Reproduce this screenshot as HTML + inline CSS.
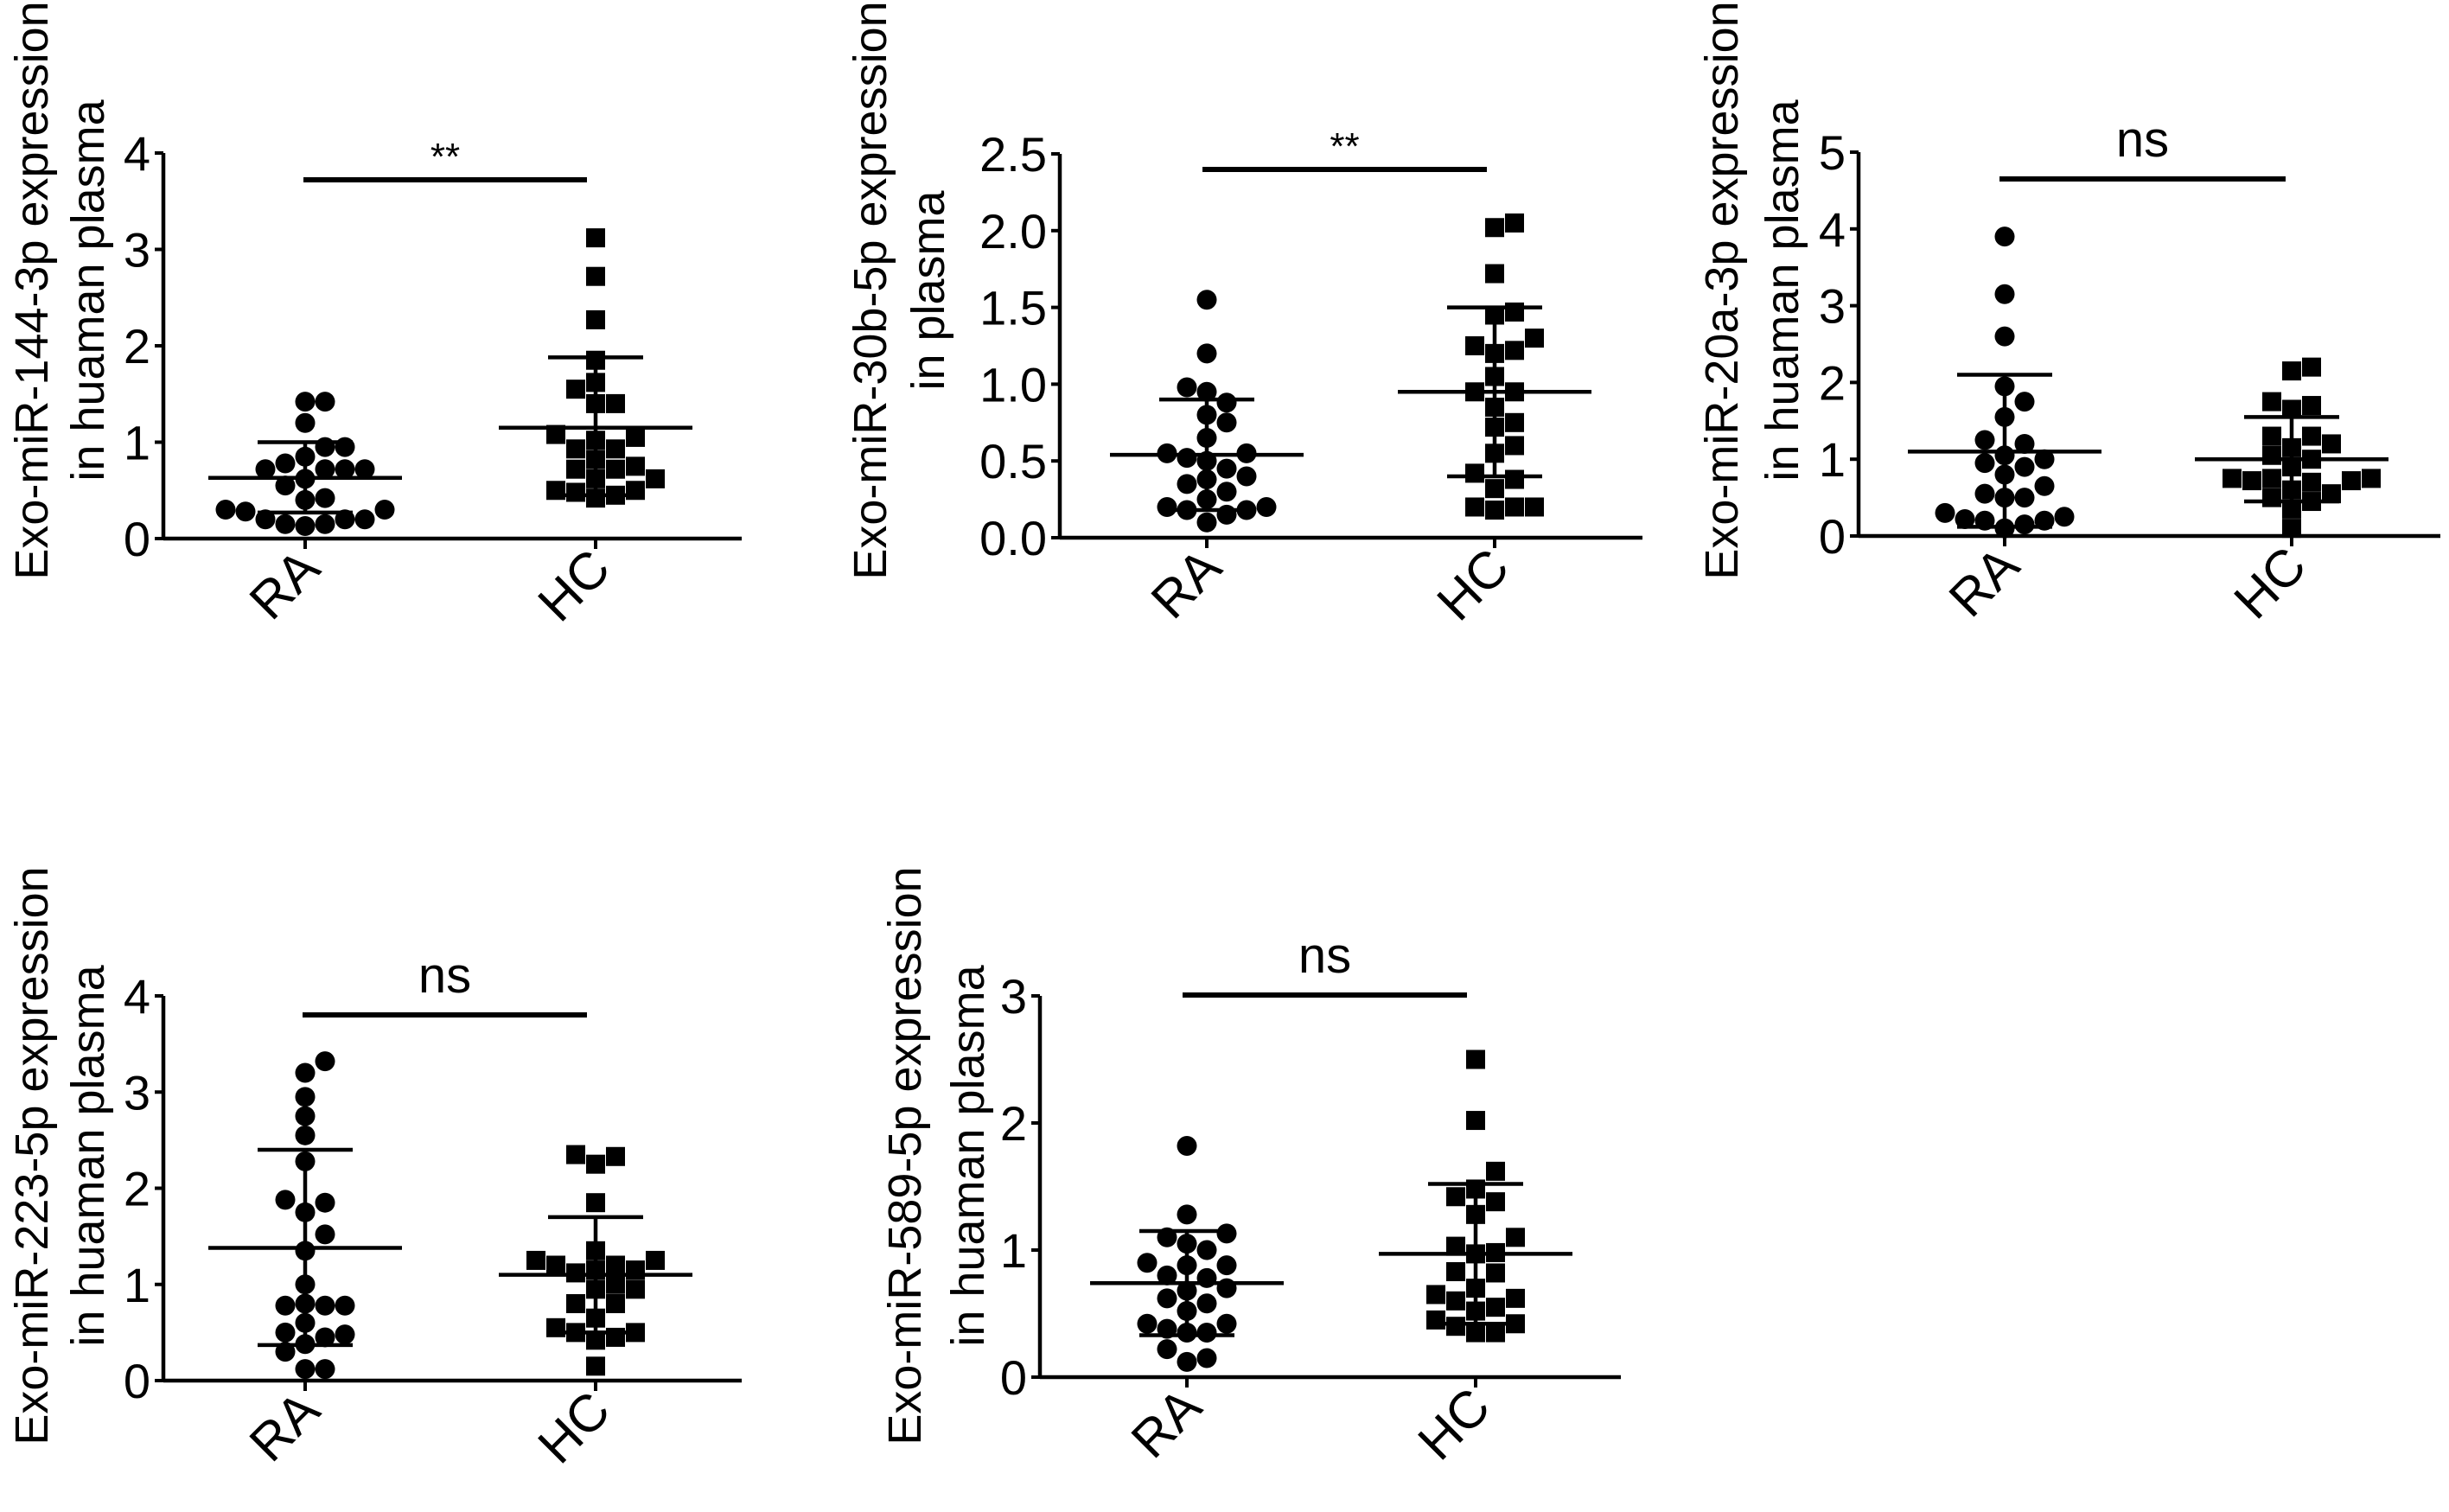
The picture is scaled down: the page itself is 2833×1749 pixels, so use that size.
<!DOCTYPE html>
<html><head><meta charset="utf-8"><style>
html,body{margin:0;padding:0;background:#fff}
svg{display:block}
text{font-family:"Liberation Sans",Arial,sans-serif;fill:#000}
</style></head><body>
<svg id="fig" width="2833" height="1749" viewBox="0 0 2833 1749" xmlns="http://www.w3.org/2000/svg"></svg>
<script>
const categories = ["RA","HC"];
const p1Title = ["Exo-miR-144-3p expression","in huaman plasma"];
const p1Ticks = ["0","1","2","3","4"];
const p1RA = [1.42,1.42,1.2,0.95,0.95,0.72,0.72,0.78,0.72,0.72,0.85,0.55,0.62,0.4,0.42,0.3,0.28,0.2,0.2,0.15,0.13,0.15,0.2,0.3];
const p1HC = [3.12,2.72,2.27,1.85,1.62,1.55,1.4,1.4,1.08,1.02,1.05,0.93,0.93,0.72,0.72,0.75,0.82,0.62,0.62,0.5,0.48,0.45,0.42,0.5];
const p1Stats = [[0.63,1.0,0.27],[1.15,1.88,0.45]];
const p1Sig = "**";

const p2Title = ["Exo-miR-30b-5p expression","in plasma"];
const p2Ticks = ["0.0","0.5","1.0","1.5","2.0","2.5"];
const p2RA = [1.55,1.2,0.98,0.95,0.88,0.8,0.75,0.65,0.55,0.5,0.55,0.52,0.4,0.35,0.38,0.3,0.2,0.18,0.2,0.18,0.15,0.1,0.25,0.45];
const p2HC = [2.05,2.02,1.72,1.47,1.45,1.25,1.2,1.3,1.22,1.05,0.95,0.95,0.85,0.75,0.72,0.6,0.55,0.42,0.38,0.32,0.2,0.2,0.18,0.2];
const p2Stats = [[0.54,0.9,0.18],[0.95,1.5,0.4]];
const p2Sig = "**";

const p3Title = ["Exo-miR-20a-3p expression","in huaman plasma"];
const p3Ticks = ["0","1","2","3","4","5"];
const p3RA = [3.9,3.15,2.6,1.95,1.75,1.55,1.2,1.25,1.05,1.0,0.9,0.95,0.8,0.65,0.5,0.55,0.5,0.3,0.25,0.2,0.15,0.2,0.1,0.22];
const p3HC = [2.2,2.15,1.75,1.7,1.65,1.3,1.3,1.2,1.15,1.05,1.0,0.9,0.75,0.75,0.75,0.72,0.72,0.7,0.6,0.55,0.5,0.45,0.35,0.1];
const p3Stats = [[1.1,2.1,0.12],[1.0,1.55,0.45]];
const p3Sig = "ns";

const p4Title = ["Exo-miR-223-5p expression","in huaman plasma"];
const p4Ticks = ["0","1","2","3","4"];
const p4RA = [3.32,3.2,2.95,2.75,2.55,2.28,1.88,1.85,1.75,1.52,1.35,1.0,0.8,0.78,0.78,0.78,0.6,0.5,0.48,0.45,0.3,0.12,0.12,0.38];
const p4HC = [2.35,2.33,2.25,1.85,1.35,1.25,1.2,1.15,1.15,1.12,1.2,1.25,1.0,0.95,0.95,0.8,0.8,0.65,0.55,0.5,0.5,0.45,0.42,0.15];
const p4Stats = [[1.38,2.4,0.37],[1.1,1.7,0.5]];
const p4Sig = "ns";

const p5Title = ["Exo-miR-589-5p expression","in huaman plasma"];
const p5Ticks = ["0","1","2","3"];
const p5RA = [1.82,1.28,1.13,1.1,1.05,1.0,0.9,0.88,0.88,0.8,0.78,0.7,0.62,0.58,0.52,0.42,0.42,0.38,0.35,0.35,0.22,0.15,0.12,0.68];
const p5HC = [2.5,2.02,1.62,1.48,1.42,1.38,1.28,1.1,1.03,0.98,0.97,0.83,0.82,0.7,0.65,0.62,0.6,0.55,0.45,0.42,0.4,0.35,0.35,0.52];
const p5Stats = [[0.74,1.15,0.33],[0.97,1.52,0.42]];
const p5Sig = "ns";

const NS = "http://www.w3.org/2000/svg";
const svg = document.getElementById('fig');
function mk(tag, attrs, parent){
  const e = document.createElementNS(NS, tag);
  for (const k in attrs) e.setAttribute(k, attrs[k]);
  (parent||svg).appendChild(e);
  return e;
}

const panels = [
 {title:p1Title,ticks:p1Ticks,ra:p1RA,hc:p1HC,stats:p1Stats,sig:p1Sig,ax:189,y0:623,top:177,right:858,cx:[353,689],sigY:208,sigX:[351,679],labX:[55,120],labY:336},
 {title:p2Title,ticks:p2Ticks,ra:p2RA,hc:p2HC,stats:p2Stats,sig:p2Sig,ax:1226,y0:622,top:178,right:1900,cx:[1396,1729],sigY:196,sigX:[1391,1720],labX:[1025,1092],labY:336},
 {title:p3Title,ticks:p3Ticks,ra:p3RA,hc:p3HC,stats:p3Stats,sig:p3Sig,ax:2150,y0:620,top:176,right:2823,cx:[2319,2651],sigY:207,sigX:[2313,2644],labX:[2010,2080],labY:336},
 {title:p4Title,ticks:p4Ticks,ra:p4RA,hc:p4HC,stats:p4Stats,sig:p4Sig,ax:189,y0:1597,top:1152,right:858,cx:[353,689],sigY:1174,sigX:[350,679],labX:[55,120],labY:1337},
 {title:p5Title,ticks:p5Ticks,ra:p5RA,hc:p5HC,stats:p5Stats,sig:p5Sig,ax:1203,y0:1593,top:1152,right:1875,cx:[1373,1707],sigY:1151,sigX:[1368,1697],labX:[1065,1138],labY:1337}
];

function swarm(vals, yf){
  const placed = [];
  const out = new Array(vals.length);
  const idx = vals.map((v,i)=>i).sort((a,b)=>vals[a]-vals[b]);
  const d = 21, step = 23;
  const cand = [0];
  for (let s=1;s<=6;s++){cand.push(s*step); cand.push(-s*step);}
  idx.forEach(i=>{
    const y = yf(vals[i]);
    let best = 0, bestScore = Infinity;
    for (const c of cand){
      const minD = placed.reduce((m,p)=>Math.min(m,Math.hypot(p[0]-c,p[1]-y)),Infinity);
      if (minD>=d){best=c;bestScore=-1;break;}
      const score = (d-minD)*10+Math.abs(c);
      if (score<bestScore){bestScore=score;best=c;}
    }
    placed.push([best,y]);
    out[i]=best;
  });
  return out;
}

panels.forEach((P,pi)=>{
  const g = mk('g',{});
  
  
  const maxV = parseFloat(P.ticks[P.ticks.length-1]);
  const yf = v => P.y0 - (v/maxV)*(P.y0-P.top);
  const ya = mk('line',{x1:P.ax,y1:P.top,x2:P.ax,y2:P.y0,stroke:'#000','stroke-width':4.5},g);
  
  
  const xa = mk('line',{x1:P.ax,y1:P.y0,x2:P.right,y2:P.y0,stroke:'#000','stroke-width':4.5},g);
  
  
  P.ticks.forEach(t=>{
    const y = yf(parseFloat(t));
    mk('line',{x1:P.ax-10,y1:y,x2:P.ax,y2:y,stroke:'#000','stroke-width':4},g);
    const tx = mk('text',{x:P.ax-15,y:y+20,'text-anchor':'end','font-size':56},g);
    
    
    tx.textContent = t;
  });
  P.title.forEach((line,li)=>{
    const t = mk('text',{x:0,y:0,'text-anchor':'middle','font-size':54,transform:`translate(${P.labX[li]},${P.labY}) rotate(-90)`},g);
    
    
    t.textContent = line;
  });
  categories.forEach((c,ci)=>{
    const x = P.cx[ci];
    mk('line',{x1:x,y1:P.y0,x2:x,y2:P.y0+12,stroke:'#000','stroke-width':4},g);
    const t = mk('text',{x:0,y:0,'text-anchor':'end','font-size':60,transform:`translate(${x+20},${P.y0+38}) rotate(-45)`},g);
    
    
    t.textContent = c;
  });
  [P.ra,P.hc].forEach((vals,ci)=>{
    const offs = swarm(vals,yf);
    vals.forEach((v,i)=>{
      const x = P.cx[ci]+offs[i], y = yf(v);
      let m;
      if (ci===0) m = mk('circle',{cx:x,cy:y,r:11.5,fill:'#000'},g);
      else m = mk('rect',{x:x-11,y:y-11,width:22,height:22,fill:'#000'},g);
      
      
    });
    const s = P.stats[ci];
    const x = P.cx[ci];
    const eb = mk('g',{stroke:'#000','stroke-width':4.5},g);
    
    
    mk('line',{x1:x-112,y1:yf(s[0]),x2:x+112,y2:yf(s[0])},eb);
    mk('line',{x1:x-55,y1:yf(s[1]),x2:x+55,y2:yf(s[1])},eb);
    mk('line',{x1:x-55,y1:yf(s[2]),x2:x+55,y2:yf(s[2])},eb);
    mk('line',{x1:x,y1:yf(s[1]),x2:x,y2:yf(s[2])},eb);
  });
  const sb = mk('line',{x1:P.sigX[0],y1:P.sigY,x2:P.sigX[1],y2:P.sigY,stroke:'#000','stroke-width':6},g);
  
  
  const isStar = P.sig==='**';
  const st = mk('text',{x:(P.sigX[0]+P.sigX[1])/2,y:P.sigY-(isStar?12:26),'text-anchor':'middle','font-size':isStar?44:58},g);
  
  
  st.textContent = P.sig;
});
</script>
</body></html>
